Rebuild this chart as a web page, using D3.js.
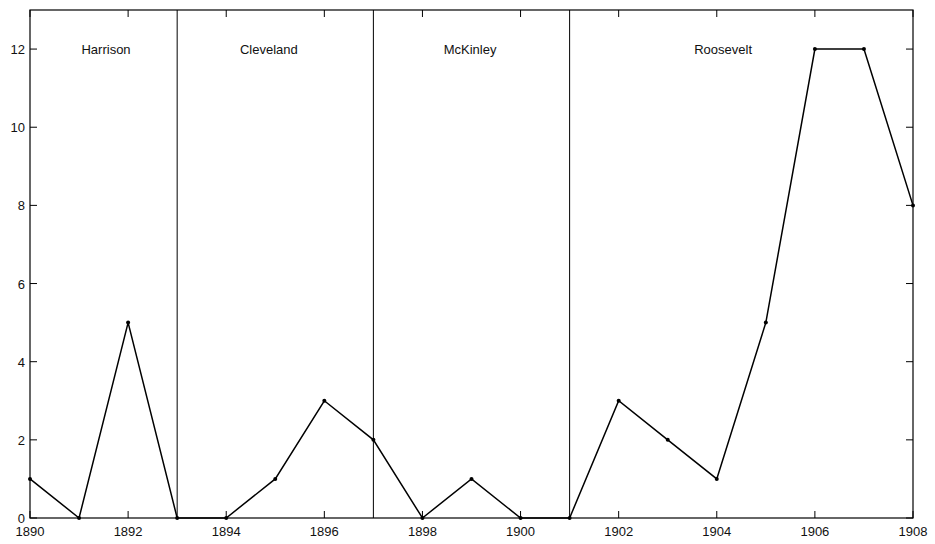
<!DOCTYPE html>
<html><head><meta charset="utf-8">
<script src="https://cdn.jsdelivr.net/npm/d3@7"></script>
<style>body{margin:0;background:#fff}svg{display:block}text{font-family:"Liberation Sans",Arial,sans-serif;font-size:13px;fill:#111}</style>
</head><body>
<script>
const years = [1890,1891,1892,1893,1894,1895,1896,1897,1898,1899,1900,1901,1902,1903,1904,1905,1906,1907,1908];
const values = [1,0,5,0,0,1,3,2,0,1,0,0,3,2,1,5,12,12,8];
const xTicks = [1890,1892,1894,1896,1898,1900,1902,1904,1906,1908];
const yTicks = [0,2,4,6,8,10,12];
const dividers = [1893,1897,1901];
const presidents = ["Harrison","Cleveland","McKinley","Roosevelt"];
const labelYears = [1891.55,1894.87,1898.97,1904.13];

const W=935,H=544, L=30, R=913, T=10, B=518;
const svg=d3.select("body").append("svg").attr("width",W).attr("height",H);
const x=d3.scaleLinear().domain([1890,1908]).range([L,R]);
const y=d3.scaleLinear().domain([0,13]).range([B,T]);
const tk=7;

svg.append("rect").attr("x",L).attr("y",T).attr("width",R-L).attr("height",B-T)
  .attr("fill","none").attr("stroke","#000").attr("stroke-width",1.2);

const g=svg.append("g");
g.selectAll(".xb").data(xTicks).join("line").attr("x1",d=>x(d)).attr("x2",d=>x(d)).attr("y1",B).attr("y2",B-tk).attr("stroke","#000");
g.selectAll(".xt").data(xTicks).join("line").attr("x1",d=>x(d)).attr("x2",d=>x(d)).attr("y1",T).attr("y2",T+tk).attr("stroke","#000");
g.selectAll(".yl").data(yTicks).join("line").attr("x1",L).attr("x2",L+tk).attr("y1",d=>y(d)).attr("y2",d=>y(d)).attr("stroke","#000");
g.selectAll(".yr").data(yTicks).join("line").attr("x1",R).attr("x2",R-tk).attr("y1",d=>y(d)).attr("y2",d=>y(d)).attr("stroke","#000");

svg.selectAll(".xlab").data(xTicks).join("text").attr("x",d=>x(d)).attr("y",B+18).attr("text-anchor","middle").text(d=>d);
svg.selectAll(".ylab").data(yTicks).join("text").attr("x",L-5).attr("y",d=>y(d)+5).attr("text-anchor","end").text(d=>d);

svg.selectAll(".div").data(dividers).join("line").attr("x1",d=>x(d)).attr("x2",d=>x(d)).attr("y1",T).attr("y2",B).attr("stroke","#000").attr("stroke-width",1);

svg.selectAll(".pres").data(presidents).join("text").attr("x",(d,i)=>x(labelYears[i])).attr("y",y(12)+5).attr("text-anchor","middle").text(d=>d);

const line=d3.line().x((d,i)=>x(years[i])).y(d=>y(d));
svg.append("path").datum(values).attr("d",line).attr("fill","none").attr("stroke","#000").attr("stroke-width",1.5);
svg.selectAll(".pt").data(values).join("circle").attr("cx",(d,i)=>x(years[i])).attr("cy",d=>y(d)).attr("r",2).attr("fill","#000");
</script>
</body></html>
